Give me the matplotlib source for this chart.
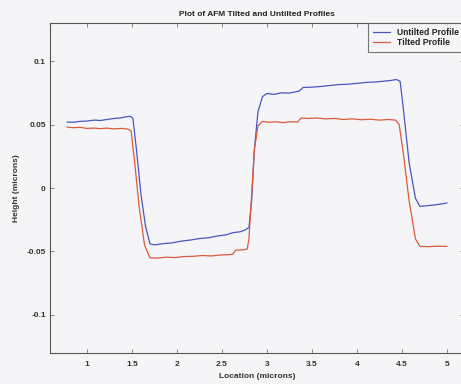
import matplotlib
matplotlib.use("Agg")
import matplotlib.pyplot as plt

# Untilted AFM profile (location in microns, height in microns)
untilted_x = [0.78, 0.85, 0.92, 1.0, 1.08, 1.15, 1.22, 1.3, 1.37, 1.44, 1.48, 1.51, 1.55, 1.60,
              1.65, 1.70, 1.75, 1.85, 1.95, 2.05, 2.15, 2.25, 2.35, 2.45, 2.55, 2.62, 2.70, 2.76,
              2.80, 2.83, 2.86, 2.90, 2.95, 3.00, 3.08, 3.16, 3.24, 3.32, 3.36, 3.40, 3.50, 3.60,
              3.70, 3.80, 3.90, 4.00, 4.10, 4.20, 4.30, 4.38, 4.44, 4.48, 4.52, 4.58, 4.65, 4.70,
              4.80, 4.90, 5.00]
untilted_y = [0.052, 0.0518, 0.0525, 0.0528, 0.0535, 0.0532, 0.054, 0.0548, 0.0552, 0.0562, 0.0565,
              0.055, 0.030, -0.005, -0.030, -0.044, -0.0448, -0.0438, -0.0432, -0.0418, -0.041,
              -0.0398, -0.0392, -0.0378, -0.0368, -0.0352, -0.0345, -0.033, -0.031, -0.010, 0.030,
              0.060, 0.072, 0.0745, 0.0738, 0.075, 0.0748, 0.0758, 0.0765, 0.0792, 0.0795, 0.080,
              0.0808, 0.0815, 0.0818, 0.0825, 0.0832, 0.0835, 0.0842, 0.0848, 0.0855, 0.084, 0.060,
              0.020, -0.008, -0.0145, -0.0138, -0.013, -0.0118]

# Tilted AFM profile
tilted_x = [0.78, 0.85, 0.92, 1.0, 1.08, 1.15, 1.22, 1.3, 1.38, 1.45, 1.49, 1.53, 1.58, 1.64,
            1.70, 1.78, 1.88, 1.98, 2.08, 2.18, 2.28, 2.38, 2.48, 2.58, 2.62, 2.65, 2.72, 2.78,
            2.80, 2.83, 2.86, 2.90, 2.95, 3.02, 3.10, 3.18, 3.26, 3.34, 3.38, 3.45, 3.55, 3.65,
            3.75, 3.85, 3.95, 4.05, 4.15, 4.25, 4.35, 4.43, 4.47, 4.52, 4.58, 4.65, 4.70, 4.80,
            4.90, 5.00]
tilted_y = [0.048, 0.0475, 0.0478, 0.047, 0.0472, 0.0468, 0.0472, 0.0466, 0.047, 0.0465, 0.045,
            0.020, -0.015, -0.045, -0.055, -0.0552, -0.0545, -0.0548, -0.054, -0.0538, -0.0532,
            -0.0535, -0.0528, -0.0525, -0.0522, -0.049, -0.0488, -0.0482, -0.040, -0.005, 0.030,
            0.049, 0.0525, 0.0518, 0.0522, 0.0515, 0.0522, 0.052, 0.0552, 0.0548, 0.0552, 0.0545,
            0.0548, 0.054, 0.0545, 0.0538, 0.0542, 0.0535, 0.054, 0.0535, 0.050, 0.025, -0.010,
            -0.040, -0.046, -0.0462, -0.0458, -0.046]

x_ticks = [1, 1.5, 2, 2.5, 3, 3.5, 4, 4.5, 5]
x_tick_labels = ["1", "1.5", "2", "2.5", "3", "3.5", "4", "4.5", "5"]
y_ticks = [-0.1, -0.05, 0, 0.05, 0.1]
y_tick_labels = ["-0.1", "-0.05", "0", "0.05", "0.1"]

plt.rcParams['font.family'] = ['Liberation Sans', 'DejaVu Sans']

bg = "#f5f5f7"
fig = plt.figure(figsize=(4.61, 3.84), dpi=100, facecolor=bg)
ax = fig.add_axes([0.1085, 0.0807, 0.898, 0.8593], facecolor=bg)

blue = "#4a55c0"
red = "#dc5a3c"
ax.plot(untilted_x, untilted_y, color=blue, lw=0.9, label="Untilted Profile")
ax.plot(tilted_x, tilted_y, color=red, lw=0.9, label="Tilted Profile")

ax.set_xlim(0.589, 5.19)
ax.set_ylim(-0.13, 0.13)
ax.set_xticks(x_ticks)
ax.set_xticklabels(x_tick_labels)
ax.set_yticks(y_ticks)
ax.set_yticklabels(y_tick_labels)

axis_col = "#555555"
ax.tick_params(direction="in", length=3, width=0.6, colors="#777777", labelcolor="#333333",
               labelsize=6, top=True, right=True)
ax.tick_params(axis="x", pad=6)
ax.tick_params(axis="y", pad=3)
for lab in ax.get_xticklabels() + ax.get_yticklabels():
    lab.set_fontweight("bold")
for s in ax.spines.values():
    s.set_color(axis_col)
    s.set_linewidth(0.8)

ax.set_title("Plot of AFM Tilted and Untilted Profiles", fontsize=6, fontweight="bold",
             color="#222222", pad=5)
ax.set_xlabel("Location (microns)", fontsize=6, fontweight="bold", color="#333333", labelpad=3)
ax.set_ylabel("Height (microns)", fontsize=6, fontweight="bold", color="#333333", labelpad=5)

leg = ax.legend(loc="upper right", fontsize=6.2, frameon=True, fancybox=False,
                borderpad=0.55, handlelength=2.0, labelspacing=0.2, handletextpad=0.8,
                borderaxespad=0.0)
leg.get_frame().set_edgecolor("#555555")
leg.get_frame().set_linewidth(0.8)
leg.get_frame().set_facecolor(bg)
for t in leg.get_texts():
    t.set_fontweight("bold")
    t.set_color("#222222")

fig.savefig("out.png", dpi=100, facecolor=bg)
